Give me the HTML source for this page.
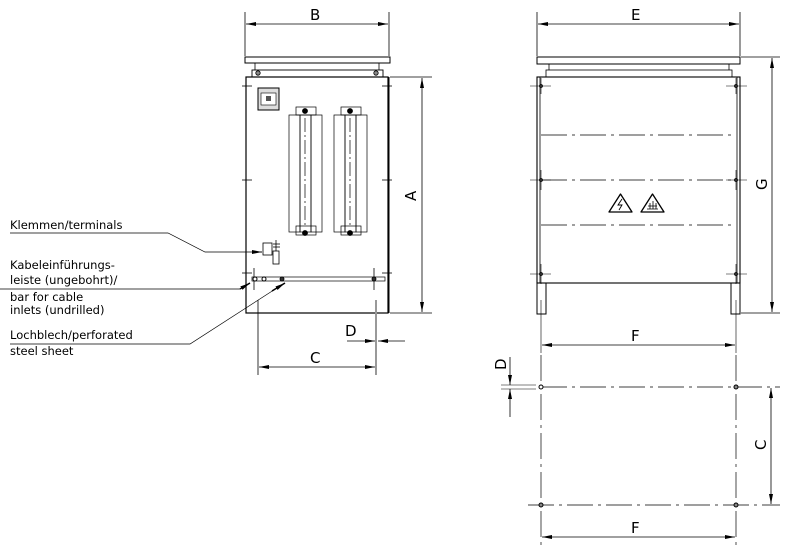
<!DOCTYPE html>
<html><head><meta charset="utf-8"><style>
html,body{margin:0;padding:0;background:#fff}
svg{display:block}
text{font-family:"DejaVu Sans","Liberation Sans",sans-serif;fill:#000}
</style></head><body>
<svg width="800" height="553" viewBox="0 0 800 553" xmlns="http://www.w3.org/2000/svg">
<defs>
<marker id="a" viewBox="0 0 10 4" refX="10" refY="2" markerWidth="10" markerHeight="4" orient="auto-start-reverse" markerUnits="userSpaceOnUse"><path d="M0,0L10,2L0,4z" fill="#000"/></marker>
</defs>
<g stroke="#000" fill="none" stroke-width="0.8">
<!-- FRONT VIEW -->
<!-- B dim -->
<line x1="245" y1="12" x2="245" y2="56"/><line x1="389" y1="12" x2="389" y2="56"/>
<line x1="246" y1="24" x2="388" y2="24" marker-start="url(#a)" marker-end="url(#a)"/>
<rect x="245" y="57" width="145" height="6" fill="#fff" stroke-width="1"/>
<line x1="255" y1="63" x2="255" y2="70"/><line x1="379" y1="63" x2="379" y2="70"/>
<rect x="252" y="70" width="131" height="7" stroke-width="0.9"/>
<circle cx="258" cy="73" r="2.2" fill="#888"/><circle cx="376" cy="73" r="2.2" fill="#888"/>
<rect x="246" y="77" width="142" height="236" stroke-width="1.2"/>
<line x1="388.5" y1="77" x2="388.5" y2="313" stroke-width="2"/>
<!-- A dim -->
<line x1="390" y1="77" x2="432" y2="77"/><line x1="390" y1="313" x2="432" y2="313"/>
<line x1="422" y1="78" x2="422" y2="312" marker-start="url(#a)" marker-end="url(#a)"/>
<!-- small ticks -->
<line x1="242" y1="86" x2="252" y2="86"/><line x1="382" y1="86" x2="392" y2="86"/>
<line x1="242" y1="180" x2="252" y2="180"/><line x1="382" y1="180" x2="392" y2="180"/>
<line x1="242" y1="273" x2="252" y2="273"/><line x1="382" y1="273" x2="392" y2="273"/>
<!-- nameplate -->
<rect x="258" y="88" width="21" height="22" fill="#ddd" stroke-width="1"/>
<rect x="261" y="93" width="15" height="12" fill="#fff" stroke-width="0.6"/>
<rect x="266" y="96" width="5" height="5" fill="#555" stroke="none"/>
<!-- heater groups -->
<g stroke-width="0.7">
<rect x="296" y="107" width="20" height="8"/><rect x="296" y="226" width="20" height="9"/>
<rect x="289" y="115" width="11" height="117"/><rect x="300" y="115" width="11" height="117"/><rect x="311" y="115" width="11" height="117"/>
<rect x="341" y="107" width="20" height="8"/><rect x="341" y="226" width="20" height="9"/>
<rect x="334" y="115" width="11" height="117"/><rect x="345" y="115" width="11" height="117"/><rect x="356" y="115" width="11" height="117"/>
<line x1="305" y1="118" x2="305" y2="226" stroke-dasharray="14,3,2,3"/>
<line x1="350" y1="118" x2="350" y2="226" stroke-dasharray="14,3,2,3"/>
</g>
<circle cx="305" cy="111" r="2.5" fill="#000"/><circle cx="350" cy="111" r="2.5" fill="#000"/>
<circle cx="305" cy="233" r="2.5" fill="#000"/><circle cx="350" cy="233" r="2.5" fill="#000"/>
<!-- terminal -->
<rect x="263" y="243" width="9" height="12" stroke-width="0.8"/>
<rect x="273" y="251" width="6" height="13"/>
<line x1="276" y1="240" x2="276" y2="251"/><line x1="273" y1="244" x2="280" y2="244"/><line x1="273" y1="247" x2="280" y2="247"/>
<!-- bar -->
<rect x="252" y="277" width="133" height="4" stroke-width="0.7"/>
<line x1="254" y1="268" x2="254" y2="290"/><line x1="374" y1="268" x2="374" y2="290"/>
<circle cx="255" cy="279" r="2" fill="#fff" stroke-width="1"/><circle cx="264" cy="279" r="2" fill="#fff" stroke-width="1"/>
<circle cx="282" cy="279" r="2" fill="#333"/><circle cx="374" cy="279" r="2" fill="#333"/>
<!-- C dim -->
<line x1="258" y1="300" x2="258" y2="375"/>
<line x1="376" y1="300" x2="376" y2="352" stroke="#999" stroke-width="2"/>
<line x1="376" y1="352" x2="376" y2="375"/>
<line x1="259" y1="367" x2="375" y2="367" marker-start="url(#a)" marker-end="url(#a)"/>
<!-- D dim -->
<line x1="347" y1="341" x2="375" y2="341" marker-end="url(#a)"/>
<line x1="405" y1="341" x2="378" y2="341" marker-end="url(#a)"/>
<!-- leaders -->
<polyline points="10,233 168,233 205,252 262,252" stroke-width="0.7"/>
<line x1="252" y1="252" x2="262" y2="252" marker-end="url(#a)"/>
<line x1="0" y1="289" x2="240" y2="289" stroke-width="0.7"/>
<line x1="240" y1="289" x2="250" y2="283" marker-end="url(#a)" stroke-width="1.5"/>
<polyline points="10,344 190,344 280,286" stroke-width="0.7"/>
<line x1="272" y1="291" x2="285" y2="283" marker-end="url(#a)" stroke-width="1.5"/>

<!-- SIDE VIEW -->
<line x1="537" y1="12" x2="537" y2="56"/><line x1="740" y1="12" x2="740" y2="56"/>
<line x1="538" y1="24" x2="739" y2="24" marker-start="url(#a)" marker-end="url(#a)"/>
<rect x="537" y="57" width="203" height="7" stroke-width="1"/>
<line x1="549" y1="64" x2="549" y2="70"/><line x1="729" y1="64" x2="729" y2="70"/>
<rect x="546" y="70" width="186" height="7"/>
<rect x="537" y="77" width="203" height="206" stroke-width="1.1"/>
<line x1="540" y1="77" x2="540" y2="283"/><line x1="737" y1="77" x2="737" y2="283"/>
<rect x="537" y="283" width="9" height="31" stroke-width="1"/><rect x="731" y="283" width="9" height="31" stroke-width="1"/>
<g stroke-dasharray="26,5,3,5" stroke-width="0.7">
<line x1="541" y1="135" x2="736" y2="135"/><line x1="541" y1="180" x2="736" y2="180"/><line x1="541" y1="225" x2="736" y2="225"/>
</g>
<g stroke-width="0.6">
<line x1="530" y1="86" x2="551" y2="86"/><line x1="726" y1="86" x2="747" y2="86"/>
<line x1="530" y1="180" x2="551" y2="180"/><line x1="726" y1="180" x2="747" y2="180"/>
<line x1="530" y1="274" x2="551" y2="274"/><line x1="726" y1="274" x2="747" y2="274"/>
<line x1="541" y1="78" x2="541" y2="94"/><line x1="736" y1="78" x2="736" y2="94"/>
<line x1="541" y1="170" x2="541" y2="190"/><line x1="736" y1="170" x2="736" y2="190"/>
<line x1="541" y1="264" x2="541" y2="284"/><line x1="736" y1="264" x2="736" y2="284"/>
<line x1="541" y1="300" x2="541" y2="353"/><line x1="736" y1="300" x2="736" y2="353"/>
</g>
<g fill="#333"><circle cx="541" cy="86" r="1.5"/><circle cx="736" cy="86" r="1.5"/><circle cx="541" cy="180" r="1.5"/><circle cx="736" cy="180" r="1.5"/><circle cx="541" cy="274" r="1.5"/><circle cx="736" cy="274" r="1.5"/></g>
<!-- warnings -->
<path d="M620.5,194 L632,212 L609,212 Z" stroke-width="1.3" stroke-linejoin="round"/>
<path d="M622,199 L618,205 L622,205 L619,210" stroke-width="0.9"/>
<path d="M652.5,194 L664,212 L641,212 Z" stroke-width="1.3" stroke-linejoin="round"/>
<path d="M647,209 L658,209 M648,206 L657,206 M650,203 v6 M653,201 v8 M656,203 v6" stroke-width="0.8"/>
<!-- G dim -->
<line x1="741" y1="57" x2="780" y2="57"/><line x1="741" y1="313" x2="780" y2="313"/>
<line x1="772" y1="58" x2="772" y2="312" marker-start="url(#a)" marker-end="url(#a)"/>
<!-- F dim -->
<line x1="542" y1="345" x2="735" y2="345" marker-start="url(#a)" marker-end="url(#a)"/>

<!-- PLAN -->
<g stroke-dasharray="26,5,3,5" stroke-width="0.7">
<line x1="541" y1="387" x2="780" y2="387"/><line x1="528" y1="505" x2="780" y2="505"/>
<line x1="541" y1="355" x2="541" y2="545"/><line x1="736" y1="355" x2="736" y2="545"/>
</g>
<line x1="501" y1="385" x2="536" y2="385" stroke-width="0.6"/><line x1="501" y1="389" x2="536" y2="389" stroke-width="0.6"/>
<circle cx="541" cy="387" r="2" fill="#fff" stroke-width="1"/><circle cx="736" cy="387" r="2" fill="#888" stroke-width="1"/>
<circle cx="541" cy="505" r="2" fill="#888" stroke-width="1"/><circle cx="736" cy="505" r="2" fill="#888" stroke-width="1"/>
<line x1="510" y1="357" x2="510" y2="385" marker-end="url(#a)"/>
<line x1="510" y1="417" x2="510" y2="389" marker-end="url(#a)"/>
<line x1="771" y1="388" x2="771" y2="504" marker-start="url(#a)" marker-end="url(#a)"/>
<line x1="542" y1="537" x2="735" y2="537" marker-start="url(#a)" marker-end="url(#a)"/>
</g>
<!-- texts -->
<g font-size="15">
<text x="310" y="20">B</text>
<text x="631" y="20">E</text>
<text x="631" y="341">F</text>
<text x="631" y="533">F</text>
<text x="310" y="363">C</text>
<text x="345" y="336">D</text>
<text transform="translate(416,201) rotate(-90)">A</text>
<text transform="translate(767,190) rotate(-90)">G</text>
<text transform="translate(766,450) rotate(-90)">C</text>
<text transform="translate(506,370) rotate(-90)">D</text>
</g>
<g font-size="11.5">
<text x="10" y="229">Klemmen/terminals</text>
<text x="10" y="269">Kabeleinführungs-</text>
<text x="10" y="284">leiste (ungebohrt)/</text>
<text x="10" y="301">bar for cable</text>
<text x="10" y="314">inlets (undrilled)</text>
<text x="10" y="339">Lochblech/perforated</text>
<text x="10" y="355">steel sheet</text>
</g>
</svg>
</body></html>
